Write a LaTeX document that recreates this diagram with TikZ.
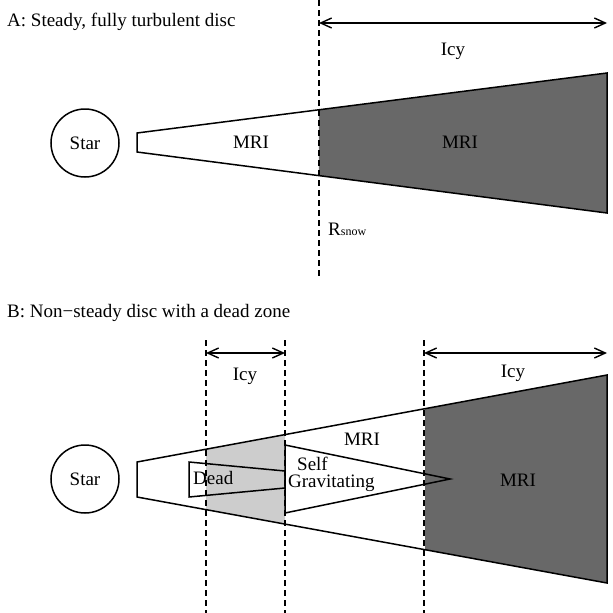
\documentclass[tikz,border=0pt]{standalone}
\usepackage{fontspec}
\setmainfont{Liberation Serif}
\usetikzlibrary{arrows.meta,calc}
\definecolor{icedark}{RGB}{104,104,104}
\definecolor{deadgray}{RGB}{205,205,205}
\begin{document}
\begin{tikzpicture}[x=1pt,y=-1pt,
  lbl/.style={font=\fontsize{19}{22}\selectfont, inner sep=0pt, anchor=base},
  lblw/.style={font=\fontsize{19}{22}\selectfont, inner sep=0pt, anchor=base west},
  edge/.style={line width=1.5pt, line join=miter},
  guide/.style={line width=1.3pt, dash pattern=on 6pt off 4pt},
  span/.style={line width=1.4pt, {Straight Barb[length=11pt,width=10pt,line width=1.4pt]}-{Straight Barb[length=11pt,width=10pt,line width=1.4pt]}},
  starnode/.style={circle, draw, line width=1.5pt, minimum size=68pt, inner sep=0pt, font=\fontsize{19}{22}\selectfont}
]
\useasboundingbox (0,0) rectangle (613,613);

% ---------------- Panel A ----------------
\node[lblw] (titleA) at (7,27) {A: Steady, fully turbulent disc};
\node[starnode] (starA) at (85,143) {Star};

\coordinate (A1) at (137,133);
\coordinate (A2) at (607,73);
\coordinate (A3) at (607,213);
\coordinate (A4) at (137,152);
\fill[icedark] ($(A1)!0.3872!(A2)$) -- (A2) -- (A3) -- ($(A4)!0.3872!(A3)$) -- cycle;
\draw[edge] (A1) -- (A2) -- (A3) -- (A4) -- cycle;

\node[lbl] (mriA1) at (251,148) {MRI};
\node[lbl] (mriA2) at (460,148) {MRI};

\coordinate (snowtop) at (319,0);
\coordinate (snowbot) at (319,276);
\draw[guide] (snowtop) -- (snowbot);

\coordinate (icyAL) at (319,23);
\coordinate (icyAR) at (607,23);
\draw[span] (icyAL) -- (icyAR);
\node[lbl] (icyA) at (453,55) {Icy};

\node[lblw] (rsnow) at (328,235) {R{\fontsize{12}{14}\selectfont snow}};

% ---------------- Panel B ----------------
\node[lblw] (titleB) at (7,317) {B: Non−steady disc with a dead zone};
\node[starnode] (starB) at (85,479) {Star};

\coordinate (B1) at (137,462);
\coordinate (B2) at (607,375);
\coordinate (B3) at (607,583);
\coordinate (B4) at (137,497);
\fill[deadgray] ($(B1)!0.1468!(B2)$) -- ($(B1)!0.3149!(B2)$) -- ($(B4)!0.3149!(B3)$) -- ($(B4)!0.1468!(B3)$) -- cycle;
\fill[icedark] ($(B1)!0.6128!(B2)$) -- (B2) -- (B3) -- ($(B4)!0.6128!(B3)$) -- cycle;
\draw[edge] (B1) -- (B2) -- (B3) -- (B4) -- cycle;

% dead zone
\coordinate (D1) at (189,462);
\coordinate (D2) at (285,471);
\coordinate (D3) at (285,488);
\coordinate (D4) at (189,497);
\draw[edge] (D1) -- (D2) -- (D3) -- (D4) -- cycle;

% self-gravitating region
\coordinate (G1) at (285,445);
\coordinate (G2) at (450,479);
\coordinate (G3) at (285,513);
\draw[edge] (G1) -- (G2) -- (G3) -- cycle;

\node[lblw] (dead) at (193,484) {Dead};
\node[lblw] (self) at (297,470) {Self};
\node[lblw] (grav) at (288,487) {Gravitating};
\node[lbl] (mriB1) at (362,445) {MRI};
\node[lbl] (mriB2) at (518,486) {MRI};

% snow-line guides
\coordinate (g1t) at (206,340); \coordinate (g1b) at (206,613);
\coordinate (g2t) at (285,340); \coordinate (g2b) at (285,613);
\coordinate (g3t) at (424,340); \coordinate (g3b) at (424,613);
\draw[guide] (g1t) -- (g1b);
\draw[guide] (g2t) -- (g2b);
\draw[guide] (g3t) -- (g3b);

\coordinate (icyB1L) at (206,353);
\coordinate (icyB1R) at (285,353);
\coordinate (icyB2L) at (424,353);
\coordinate (icyB2R) at (607,353);
\draw[span] (icyB1L) -- (icyB1R);
\draw[span] (icyB2L) -- (icyB2R);
\node[lbl] (icyB1) at (245,380) {Icy};
\node[lbl] (icyB2) at (513,377) {Icy};
\end{tikzpicture}
\end{document}
